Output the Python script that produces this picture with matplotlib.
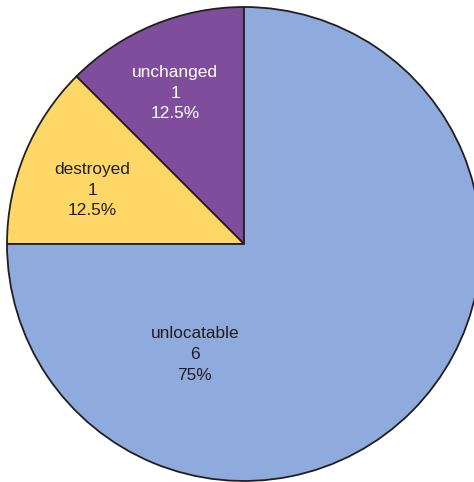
import numpy as np
import matplotlib.pyplot as plt

# slice data (counter-clockwise from the top)
categories = ['unchanged', 'destroyed', 'unlocatable']
counts = [1, 1, 6]
colors = ['#7E4E9D', '#FED766', '#8FAADC']
text_colors = ['white', '#231F20', '#231F20']

plt.rcParams['font.family'] = ['Liberation Sans', 'DejaVu Sans']

fig = plt.figure(figsize=(4.74, 4.82), dpi=100)
ax = fig.add_axes([7 / 474, 1 / 482, 474 / 474, 474 / 482])

wedges, _ = ax.pie(counts, colors=colors, startangle=90, counterclock=True,
                   radius=1.0, wedgeprops=dict(edgecolor='#231F20', linewidth=1.3))
ax.set_xlim(-1, 1)
ax.set_ylim(-1, 1)
ax.set_aspect('equal')
ax.axis('off')

# label anchors (radius, angle in degrees) - layout only
label_pos = [(0.70, 114.5), (0.68, 160.5), (0.51, 246)]
total = sum(counts)
for name, n, tc, (r, a) in zip(categories, counts, text_colors, label_pos):
    pct = 100 * n / total
    pct_s = f"{pct:g}%"
    x = r * np.cos(np.radians(a))
    y = r * np.sin(np.radians(a))
    ax.text(x, y, f"{name}\n{n}\n{pct_s}", ha='center', va='center',
            fontsize=12.4, color=tc, linespacing=1.47)

fig.savefig('out.png', dpi=100)
